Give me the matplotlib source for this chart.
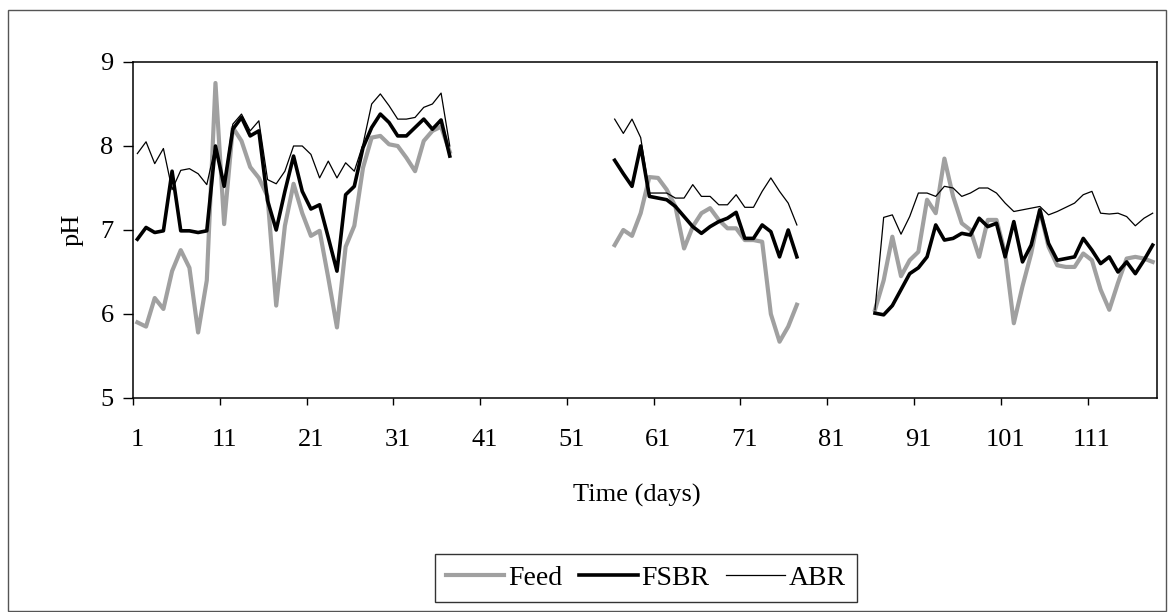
import numpy as np
import matplotlib
matplotlib.use("Agg")
import matplotlib.pyplot as plt
from matplotlib.patches import Rectangle

# pH readings, three sampling periods (days 1-37, 56-77, 86-118)
days_a = list(range(1, 38))
feed_a = [5.90, 5.85, 6.19, 6.06, 6.51, 6.76, 6.55, 5.78, 6.40, 8.75,
          7.07, 8.22, 8.06, 7.75, 7.62, 7.40, 6.10, 7.05, 7.55, 7.20,
          6.93, 6.99, 6.43, 5.84, 6.80, 7.05, 7.74, 8.10, 8.12, 8.02,
          8.00, 7.86, 7.70, 8.06, 8.18, 8.23, 7.93]
fsbr_a = [6.89, 7.03, 6.97, 6.99, 7.70, 6.99, 6.99, 6.97, 6.99, 8.00,
          7.52, 8.20, 8.34, 8.12, 8.18, 7.35, 7.00, 7.46, 7.88, 7.46,
          7.25, 7.30, 6.91, 6.51, 7.42, 7.52, 7.98, 8.22, 8.38, 8.28,
          8.12, 8.12, 8.22, 8.32, 8.20, 8.31, 7.88]
abr_a = [7.91, 8.05, 7.79, 7.97, 7.48, 7.71, 7.73, 7.67, 7.54, 8.00,
         7.55, 8.26, 8.38, 8.18, 8.30, 7.60, 7.55, 7.70, 8.00, 8.00,
         7.90, 7.62, 7.82, 7.62, 7.80, 7.70, 8.02, 8.50, 8.62, 8.48,
         8.32, 8.32, 8.34, 8.46, 8.50, 8.63, 8.00]

days_b = list(range(56, 78))
feed_b = [6.82, 7.00, 6.93, 7.20, 7.63, 7.62, 7.48, 7.28, 6.78, 7.04,
          7.20, 7.26, 7.12, 7.02, 7.02, 6.88, 6.88, 6.86, 6.00, 5.67,
          5.85, 6.11]
fsbr_b = [7.83, 7.67, 7.52, 8.00, 7.40, 7.38, 7.36, 7.28, 7.16, 7.04,
          6.96, 7.04, 7.10, 7.14, 7.21, 6.90, 6.90, 7.06, 6.98, 6.68,
          7.00, 6.68]
abr_b = [8.32, 8.15, 8.32, 8.10, 7.44, 7.44, 7.44, 7.38, 7.38, 7.54,
         7.40, 7.40, 7.30, 7.30, 7.42, 7.27, 7.27, 7.46, 7.62, 7.46,
         7.32, 7.06]

days_c = list(range(86, 119))
feed_c = [6.05, 6.40, 6.92, 6.45, 6.64, 6.74, 7.36, 7.20, 7.85, 7.40,
          7.08, 7.00, 6.68, 7.12, 7.12, 6.72, 5.89, 6.33, 6.72, 7.24,
          6.80, 6.58, 6.56, 6.56, 6.72, 6.64, 6.29, 6.05, 6.37, 6.66,
          6.68, 6.66, 6.62]
fsbr_c = [6.01, 5.99, 6.10, 6.29, 6.48, 6.55, 6.68, 7.06, 6.88, 6.90,
          6.96, 6.94, 7.14, 7.04, 7.08, 6.68, 7.10, 6.62, 6.82, 7.24,
          6.84, 6.64, 6.66, 6.68, 6.90, 6.76, 6.60, 6.68, 6.50, 6.62,
          6.48, 6.64, 6.82]
abr_c = [6.05, 7.15, 7.18, 6.95, 7.16, 7.44, 7.44, 7.40, 7.52, 7.50,
         7.40, 7.44, 7.50, 7.50, 7.44, 7.32, 7.22, 7.24, 7.26, 7.28,
         7.18, 7.22, 7.27, 7.32, 7.42, 7.46, 7.20, 7.19, 7.20, 7.16,
         7.05, 7.14, 7.20]

day_labels = list(range(1, 112, 10))


def join(*parts):
    # glue the periods together with NaN so the line breaks between them
    xs, ys = [], []
    for x, y in parts:
        xs += list(x) + [np.nan]
        ys += list(y) + [np.nan]
    return np.array(xs, dtype=float), np.array(ys, dtype=float)


plt.rcParams['font.family'] = ['Liberation Serif', 'DejaVu Serif']
plt.rcParams['font.size'] = 19

fig = plt.figure(figsize=(11.7, 6.12), dpi=100)
ax = fig.add_axes([0.1137, 0.3497, 0.8752, 0.549])

x, y = join((days_a, feed_a), (days_b, feed_b), (days_c, feed_c))
ax.plot(x, y, color='#a0a0a0', lw=3.0, label='Feed', solid_joinstyle='round')
x, y = join((days_a, fsbr_a), (days_b, fsbr_b), (days_c, fsbr_c))
ax.plot(x, y, color='black', lw=2.6, label='FSBR', solid_joinstyle='round')
x, y = join((days_a, abr_a), (days_b, abr_b), (days_c, abr_c))
ax.plot(x, y, color='black', lw=0.9, label='ABR')

ax.set_xlim(0.5, 118.5)
ax.set_ylim(5, 9)
ax.set_yticks([5, 6, 7, 8, 9])

# tick marks sit between categories, labels sit on the day itself
ax.set_xticks(np.arange(0.5, 111, 10))
ax.set_xticklabels([])
ax.set_xticks(day_labels, minor=True)
ax.set_xticklabels([str(d) for d in day_labels], minor=True)
ax.tick_params(axis='x', which='major', direction='out', length=5, width=1)
ax.tick_params(axis='x', which='minor', length=0, pad=22)
ax.tick_params(axis='y', direction='out', length=7, width=1, pad=7)
ax.tick_params(top=False, right=False)

for s in ax.spines.values():
    s.set_linewidth(1.1)
    s.set_color('black')

ax.set_ylabel('pH', labelpad=12)
fig.text(637 / 1170, 1 - 495 / 612, 'Time (days)', ha='center', va='center')

leg = fig.legend(loc='center', bbox_to_anchor=(646 / 1170, 1 - 578 / 612), ncol=3,
                 fontsize=20, frameon=True, fancybox=False, edgecolor='black',
                 handlelength=2.1, handletextpad=0.15, columnspacing=0.6,
                 borderpad=0.4, borderaxespad=0)
leg.get_frame().set_linewidth(1.0)

# thin border around the whole chart
fig.patches.append(Rectangle((8 / 1170, 0.002), 1158 / 1170, 1 - 10 / 612 - 0.002,
                             transform=fig.transFigure, fill=False,
                             edgecolor='#555555', lw=1.0))

fig.savefig('out.png', dpi=100)
